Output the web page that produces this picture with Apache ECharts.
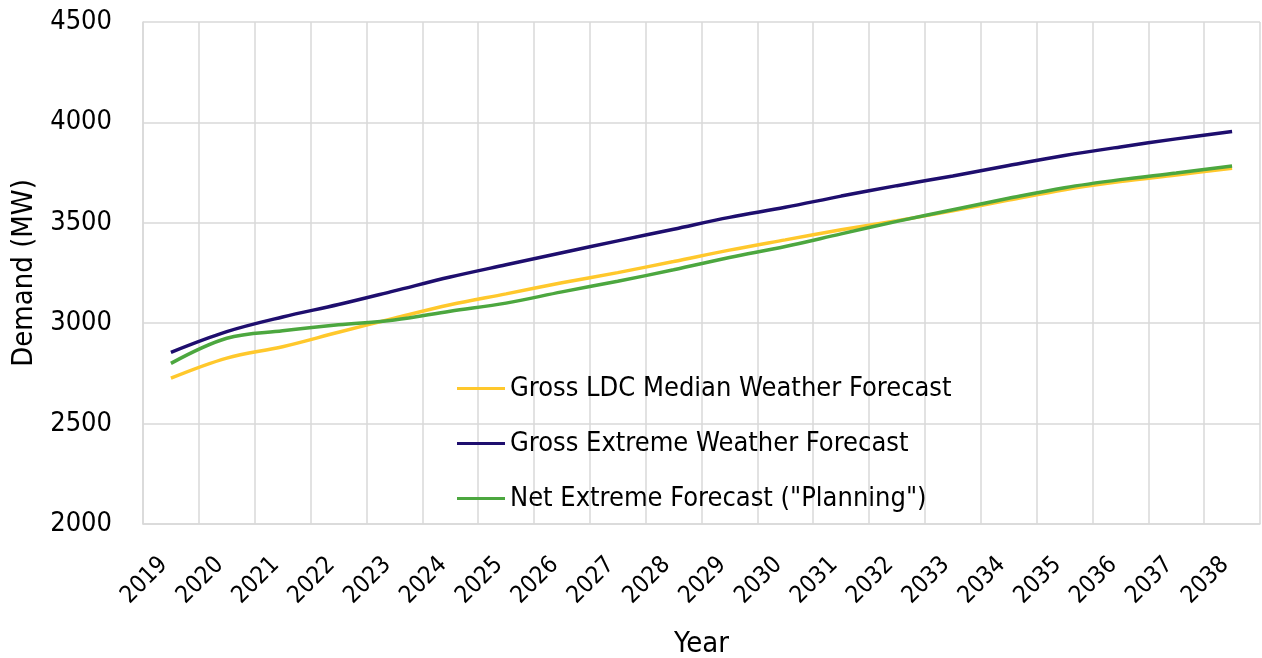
<!DOCTYPE html>
<html>
<head>
<meta charset="utf-8">
<script src="https://cdn.jsdelivr.net/npm/echarts@6/dist/echarts.min.js"></script>
<style>
html,body{margin:0;padding:0;background:#fff;}
#chart{width:1262px;height:658px;}
</style>
</head>
<body>
<div id="chart"></div>
<script>
const years = ['2019','2020','2021','2022','2023','2024','2025','2026','2027','2028','2029','2030','2031','2032','2033','2034','2035','2036','2037','2038'];
const grossMedian = [2726, 2826, 2883, 2955, 3025, 3092, 3146, 3201, 3252, 3307, 3364, 3415, 3465, 3510, 3560, 3613, 3665, 3705, 3738, 3772];
const grossExtreme = [2855, 2958, 3031, 3093, 3161, 3230, 3291, 3351, 3410, 3468, 3527, 3577, 3633, 3685, 3733, 3785, 3835, 3878, 3918, 3955];
const netExtreme = [2800, 2925, 2962, 2992, 3016, 3060, 3100, 3156, 3209, 3266, 3327, 3382, 3445, 3507, 3565, 3622, 3675, 3715, 3748, 3783];
const seriesNames = ['Gross LDC Median Weather Forecast', 'Gross Extreme Weather Forecast', 'Net Extreme Forecast ("Planning")'];
const yTicks = {min: 2000, max: 4500, step: 500};

const FONT = '"DejaVu Sans Condensed", "DejaVu Sans", sans-serif';
const chart = echarts.init(document.getElementById('chart'), null, {renderer: 'canvas'});
const colors = ['#FFC82C', '#1E0E6E', '#4CA73F'];
const data = [grossMedian, grossExtreme, netExtreme];

chart.setOption({
  animation: false,
  backgroundColor: '#fff',
  textStyle: {fontFamily: FONT, color: '#000'},
  grid: {left: 143, right: 2, top: 22, bottom: 134, containLabel: false, outerBoundsMode: 'none'},
  legend: {
    orient: 'vertical',
    left: 457,
    top: 375,
    padding: 0,
    icon: 'rect',
    itemWidth: 48,
    itemHeight: 3,
    itemGap: 28,
    textStyle: {fontFamily: FONT, fontSize: 27, color: '#000'},
    data: seriesNames
  },
  xAxis: {
    type: 'category',
    data: years,
    boundaryGap: true,
    name: 'Year',
    nameLocation: 'middle',
    nameGap: 106,
    nameTextStyle: {fontFamily: FONT, fontSize: 29, color: '#000'},
    axisLine: {show: true, lineStyle: {color: '#d9d9d9', width: 1.5}},
    axisTick: {show: false},
    axisLabel: {rotate: 45, fontSize: 24, color: '#000', margin: 30, padding: [0, 10, 0, 0], fontFamily: FONT, interval: 0},
    splitLine: {show: true, lineStyle: {color: '#d9d9d9', width: 1.5}}
  },
  yAxis: {
    type: 'value',
    min: yTicks.min,
    max: yTicks.max,
    interval: yTicks.step,
    name: 'Demand (MW)',
    nameLocation: 'middle',
    nameRotate: 90,
    nameGap: 84,
    nameTextStyle: {fontFamily: FONT, fontSize: 29, color: '#000'},
    axisLine: {show: true, lineStyle: {color: '#d9d9d9', width: 1.5}},
    axisTick: {show: false},
    axisLabel: {fontSize: 27, color: '#000', margin: 31, fontFamily: FONT, formatter: v => String(v)},
    splitLine: {show: true, lineStyle: {color: '#d9d9d9', width: 1.5}}
  },
  series: seriesNames.map((n, i) => ({
    name: n,
    type: 'line',
    data: data[i],
    smooth: 0.35,
    symbol: 'none',
    lineStyle: {color: colors[i], width: 3.5},
    itemStyle: {color: colors[i]}
  }))
});
</script>
</body>
</html>
